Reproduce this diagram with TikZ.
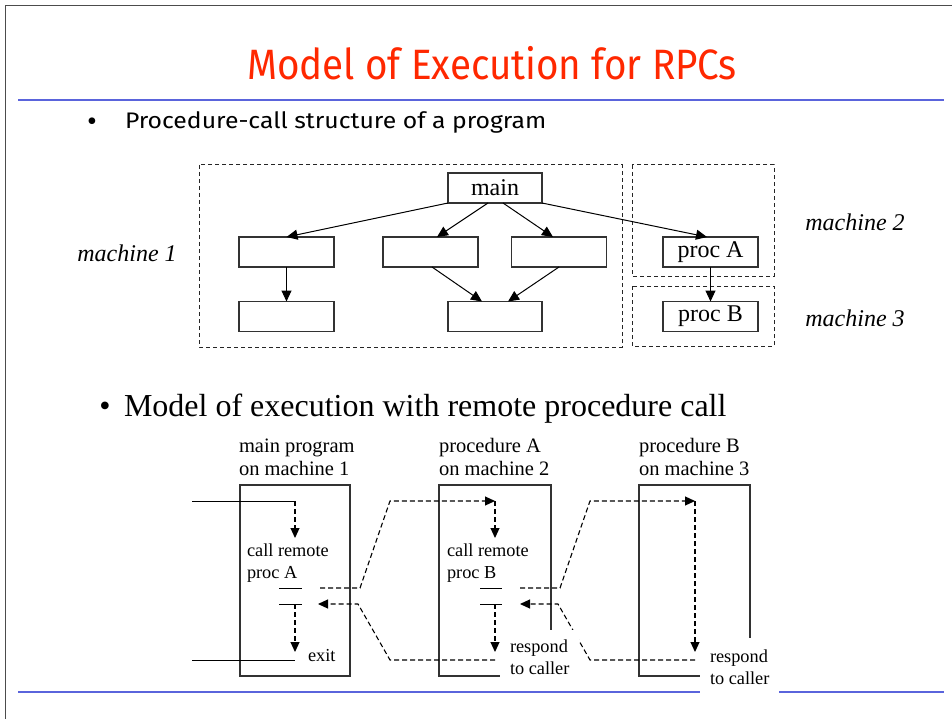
\documentclass[tikz,border=0pt]{standalone}
\usepackage{fontspec}
\setmainfont{Liberation Serif}
\newfontfamily\comicfont{Fira Sans}
\usetikzlibrary{arrows.meta,calc}
\definecolor{titlered}{RGB}{255,40,0}
\definecolor{ruleblue}{RGB}{90,100,220}
\definecolor{boxgray}{RGB}{50,50,50}
\begin{document}
\begin{tikzpicture}[x=1pt,y=-1pt,
  every node/.style={inner sep=0pt, outer sep=0pt},
  procbox/.style={draw=boxgray, line width=1.1pt, minimum width=95pt, minimum height=30pt, font=\fontsize{24}{26}\selectfont},
  machbox/.style={draw=black!85, line width=1pt, dash pattern=on 4pt off 3pt},
  machlabel/.style={font=\fontsize{24}{26}\selectfont\itshape},
  callarrow/.style={draw=black, line width=1pt, -{Triangle[length=11pt,width=10pt]}},
  flow/.style={draw=black, line width=1pt},
  dflow/.style={draw=black, line width=1.1pt, dash pattern=on 5pt off 3pt},
  tip/.style={-{Triangle[length=10pt,width=9pt]}},
  colbox/.style={draw=boxgray, line width=1.1pt, minimum width=111pt, minimum height=191pt},
  hdr/.style={align=left, anchor=base west, font=\fontsize{20.5}{23}\selectfont},
  small/.style={align=left, anchor=base west, font=\fontsize{18.3}{22}\selectfont}
]
\useasboundingbox (0,0) rectangle (952,719);
\fill[white] (0,0) rectangle (952,719);
% frame
\draw[black!70, line width=1pt] (5.5,719) -- (5.5,5.5) -- (952,5.5);
% title
\node[font=\comicfont\fontsize{38.6}{44}\selectfont, text=titlered, anchor=base] (title) at (492,80) {\scalebox{1}[1.1]{Model of Execution for RPCs}};
\draw[ruleblue, line width=2pt] (18,100) -- (944,100);
% bullet 1
\node[font=\fontsize{28}{30}\selectfont, anchor=base] (b1dot) at (92,131) {\textbullet};
\node[font=\comicfont\fontsize{22.5}{24}\selectfont, anchor=base west] (b1) at (125,129) {\scalebox{1.1}[1]{Procedure-call structure of a program}};

% machine boxes
\draw[machbox] (199,165) rectangle (622,347);
\draw[machbox] (632,165) rectangle (774,276);
\draw[machbox] (632,286) rectangle (774,346);
\node[machlabel] (m1) at (127,253) {machine 1};
\node[machlabel] (m2) at (855,222) {machine 2};
\node[machlabel] (m3) at (855,318) {machine 3};

% procedure boxes
\node[procbox, minimum width=94pt] (main) at (495,188) {main};
\node[procbox] (L1) at (286.5,252) {};
\node[procbox] (M1) at (430.5,252) {};
\node[procbox] (R1) at (559,252) {};
\node[procbox] (L2) at (286.5,316.5) {};
\node[procbox, minimum width=94pt] (M2) at (495,316.5) {};
\node[procbox] (pA) at (710.5,252) {proc A};
\node[procbox] (pB) at (710.5,316.5) {proc B};

\draw[callarrow] (main.south west) -- (L1.north);
\draw[callarrow] ($(main.south)+(-7,0)$) -- ($(M1.north)+(6.5,0)$);
\draw[callarrow] ($(main.south)+(8,0)$) -- ($(R1.north)+(-6,0)$);
\draw[callarrow] (main.south east) -- ($(pA.north)+(-3.5,0)$);
\draw[callarrow] (L1.south) -- (L2.north);
\draw[callarrow] ($(M1.south)+(1.5,0)$) -- ($(M2.north)+(-13,0)$);
\draw[callarrow] (R1.south) -- ($(M2.north)+(13,0)$);
\draw[callarrow] (pA.south) -- (pB.north);

% bullet 2
\node[font=\fontsize{32}{36}\selectfont, anchor=base] (b2dot) at (105,416) {\textbullet};
\node[font=\fontsize{32}{36}\selectfont, anchor=base west] (b2) at (124,416) {Model of execution with remote procedure call};

% columns
\node[colbox, minimum width=110pt] (colM) at (295,580.5) {};
\node[colbox, minimum width=112pt] (colA) at (495,580.5) {};
\node[colbox] (colB) at (694.5,580.5) {};
\node[hdr] (hM) at (239,475) {main program\\on machine 1};
\node[hdr] (hA) at (439,475) {procedure A\\on machine 2};
\node[hdr] (hB) at (639,475) {procedure B\\on machine 3};

\node[small] (callA) at (247,578) {call remote\\proc A};
\node[small] (callB) at (447,578) {call remote\\proc B};
\node[small] (exit) at (308,661) {exit};

% main program flow
\coordinate (inM) at (192,501);
\coordinate (topM) at (295,501);
\coordinate (outM) at (192,660);
\coordinate (botM) at (295,660);
\draw[flow] (inM) -- (topM);
\draw[dflow, tip] (topM) -- (295,538);
\draw[flow] (279,588) -- (302,588);
\draw[flow] (279,604) -- (302,604);
\draw[dflow, tip] (295,604) -- (295,652);
\draw[flow] (outM) -- (botM);

% proc A flow
\draw[dflow, tip] (320,588) -- (360,588) -- (390,501) -- (495,501);
\draw[dflow, tip] (495,501) -- (495,538);
\draw[flow] (480,588) -- (502,588);
\draw[flow] (480,604) -- (502,604);
\draw[dflow, tip] (495,604) -- (495,652);
\draw[dflow, tip] (495,660) -- (390,660) -- (358,604) -- (318,604);

% proc B flow
\draw[dflow, tip] (520,588) -- (560,588) -- (590,501) -- (695,501);
\draw[dflow, tip] (695,501) -- (695,652);
\draw[dflow, tip] (695,660) -- (590,660) -- (558,604) -- (520,604);

% bottom rule
\draw[ruleblue, line width=2pt] (18,692) -- (944,692);

% respond labels (white background)
\node[small, fill=white, anchor=north west, inner xsep=10pt, minimum height=55pt] (rA) at (500,630) {respond\\to caller};
\node[small, fill=white, anchor=north west, inner xsep=10pt, minimum height=59pt] (rB) at (700,638) {respond\\to caller};
\end{tikzpicture}
\end{document}
